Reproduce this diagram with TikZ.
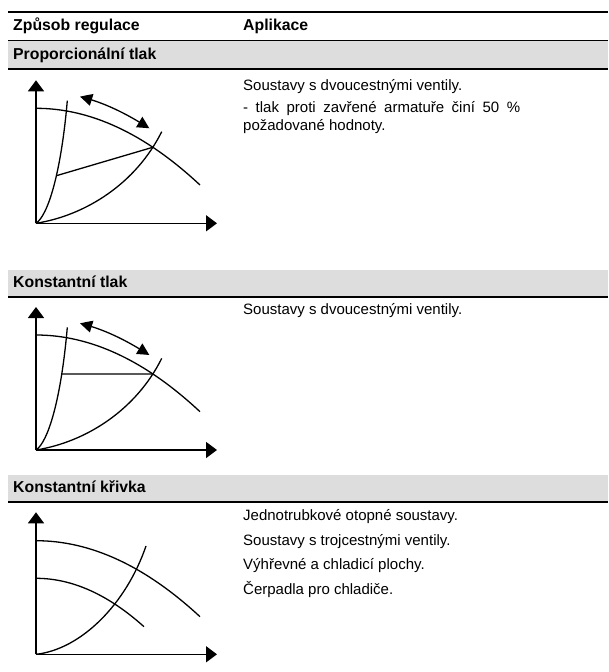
\documentclass[tikz,border=0pt]{standalone}
\usepackage{fontspec}
\setmainfont{Liberation Sans}
\usetikzlibrary{arrows.meta,bending,intersections}
\definecolor{bandgray}{RGB}{221,221,221}
\tikzset{
  txt/.style={anchor=base west, inner sep=0pt, font=\fontsize{15}{17}\selectfont},
  hdr/.style={anchor=base west, inner sep=0pt, font=\fontsize{15.8}{17}\selectfont\bfseries},
  rulethick/.style={line width=2pt},
  rulethin/.style={line width=1.5pt},
  curve/.style={line width=1.3pt},
  axis/.style={line width=1.5pt, -{Triangle[length=11pt,width=16pt]}},
  dbl/.style={line width=1.3pt, {Triangle[length=12pt,width=12pt,bend]}-{Triangle[length=12pt,width=12pt,bend]}},
}
\begin{document}
\begin{tikzpicture}[x=1pt,y=-1pt]
\useasboundingbox (0,0) rectangle (608,672);
% header
\draw[rulethick] (8,11.5) -- (608,11.5);
\node[hdr] (hA) at (13,30) {Způsob regulace};
\node[hdr] (hB) at (243,30) {Aplikace};
\fill[bandgray] (8,41) rectangle (608,68.5);
\draw[line width=1.7pt] (8,40.5) -- (608,40.5);
\node[hdr] (b1) at (13,59) {Proporcionální tlak};
\draw[rulethin] (8,69) -- (608,69);
% section 1 text
\node[txt] (t11) at (243,90) {Soustavy s dvoucestnými ventily.};
\node[txt] (t12) at (243,112.5) {\makebox[277pt][s]{- tlak proti zavřené armatuře činí 50 \%}};
\node[txt] (t13) at (243,130) {požadované hodnoty.};
% band 2
\fill[bandgray] (8,270) rectangle (608,296.5);
\node[hdr] (b2) at (13,287) {Konstantní tlak};
\draw[rulethin] (8,297) -- (608,297);
\node[txt] (t21) at (243,314.5) {Soustavy s dvoucestnými ventily.};
% band 3
\fill[bandgray] (8,474.5) rectangle (608,501.5);
\node[hdr] (b3) at (13,492) {Konstantní křivka};
\draw[rulethin] (8,502) -- (608,502);
\node[txt] (t31) at (243,520.5) {Jednotrubkové otopné soustavy.};
\node[txt] (t32) at (243,545) {Soustavy s trojcestnými ventily.};
\node[txt] (t33) at (243,569.5) {Výhřevné a chladicí plochy.};
\node[txt] (t34) at (243,594) {Čerpadla pro chladiče.};
% diagram 1
\begin{scope}[shift={(36,223.3)}]
\coordinate (o1) at (0,0);
\coordinate (y1) at (0,-143);
\coordinate (x1) at (181,0);
\draw[axis] (o1) -- (y1);
\draw[axis] (o1) -- (x1);
\draw[curve,name path=p1] (0,-115) .. controls (54.7,-115) and (109.3,-89.4) .. (164,-38.3);
\draw[curve,name path=s1] (o1) .. controls (12,-8) and (25,-50) .. (31.3,-122.6);
\draw[curve,name path=f1] (o1) .. controls (50,-8) and (100,-40) .. (125.7,-91.6);
\path[name intersections={of=p1 and f1, by=i1}];
\coordinate (c1) at (20.4,-47.6);
\draw[curve] (c1) -- (i1);
\coordinate (da1) at (44,-126.6);
\coordinate (db1) at (113.3,-95);
\draw[dbl] (da1) .. controls (65.3,-121.7) and (88.4,-111.1) .. (db1);
\end{scope}
% diagram 2
\begin{scope}[shift={(36,450)}]
\coordinate (o2) at (0,0);
\coordinate (y2) at (0,-143);
\coordinate (x2) at (181,0);
\draw[axis] (o2) -- (y2);
\draw[axis] (o2) -- (x2);
\draw[curve,name path=p2] (0,-115) .. controls (54.7,-115) and (109.3,-89.4) .. (164,-38.3);
\draw[curve,name path=s2] (o2) .. controls (12,-8) and (25,-50) .. (31.3,-122.6);
\draw[curve,name path=f2] (o2) .. controls (50,-8) and (100,-40) .. (125.7,-91.6);
\path[name intersections={of=p2 and f2, by=i2}];
\path[name path=h2] (o2 |- i2) -- (i2);
\path[name intersections={of=s2 and h2, by=c2}];
\draw[curve] (c2) -- (i2);
\coordinate (da2) at (44,-126.6);
\coordinate (db2) at (113.3,-95);
\draw[dbl] (da2) .. controls (65.3,-121.7) and (88.4,-111.1) .. (db2);
\end{scope}
% diagram 3
\begin{scope}[shift={(36,654.3)}]
\coordinate (o3) at (0,0);
\coordinate (y3) at (0,-142);
\coordinate (x3) at (181,0);
\draw[axis] (o3) -- (y3);
\draw[axis] (o3) -- (x3);
\draw[curve] (0,-113.6) .. controls (54.7,-113.6) and (109.3,-88.3) .. (164,-37.6);
\draw[curve] (0,-76) .. controls (36,-76) and (72,-59.9) .. (108,-27.6);
\draw[curve] (o3) .. controls (45,-5) and (90,-50) .. (110,-108.3);
\end{scope}
\end{tikzpicture}
\end{document}
